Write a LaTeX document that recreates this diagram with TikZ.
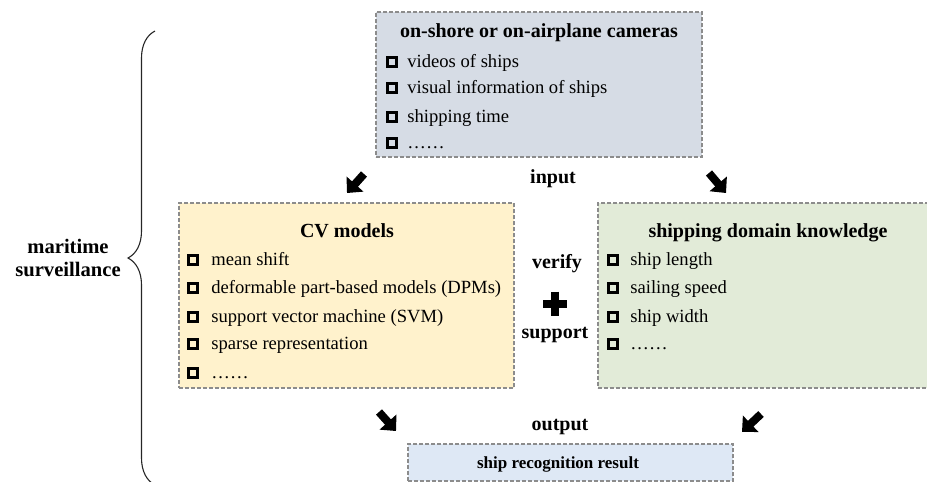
\documentclass[tikz,border=0pt]{standalone}
\usepackage{fontspec}
\setmainfont{Liberation Serif}
\usetikzlibrary{arrows.meta,decorations.pathreplacing}
\definecolor{camfill}{HTML}{D6DCE5}
\definecolor{cvfill}{HTML}{FFF2CC}
\definecolor{knowfill}{HTML}{E2EBD8}
\definecolor{resfill}{HTML}{DEE8F5}
\definecolor{dashgray}{HTML}{8C8C8C}
\tikzset{
  box/.style={draw=dashgray,line width=0.7pt,dash pattern=on 2pt off 1pt,inner sep=0pt},
  chk/.style={draw,line width=1.7pt,minimum size=4.7pt,inner sep=0pt},
  entry/.style={anchor=base west,inner sep=0pt},
  title/.style={anchor=base,inner sep=0pt,font=\bfseries},
  blk/.style={line width=4pt,-{Triangle[length=6pt,width=11pt]}}
}

\begin{document}
\begin{tikzpicture}[x=0.5pt,y=-0.5pt,font=\fontsize{9.3}{11}\selectfont]
\useasboundingbox (0,0) rectangle (927,482);
\node[box,fill=camfill,minimum width=163pt,minimum height=72.5pt] (cams) at (539,84.5) {};
\node[box,fill=cvfill,minimum width=167.5pt,minimum height=92.5pt] (cv) at (346.5,295.5) {};
\node[box,fill=knowfill,minimum width=170pt,minimum height=92.5pt] (know) at (768,295.5) {};
\node[box,fill=resfill,minimum width=162.5pt,minimum height=18.5pt] (res) at (570.5,462.5) {};

\node[title] (camstitle) at (539,37) {on-shore or on-airplane cameras};
\foreach \n/\y/\t in {cam1/62/videos of ships,cam2/88/visual information of ships,cam3/117/shipping time,cam4/143/……}{
  \node[chk] (\n-b) at (392,\y) {};
  \node[entry] (\n) at (407,\y+5) {\t};
}
\node[title] (cvtitle) at (347,237) {CV models};
\foreach \n/\y/\t in {cv1/260/mean shift,cv2/288/deformable part-based models (DPMs),cv3/317/support vector machine (SVM),cv4/344/sparse representation,cv5/373/……}{
  \node[chk] (\n-b) at (193,\y) {};
  \node[entry] (\n) at (211,\y+5) {\t};
}
\node[title] (knowtitle) at (768,237) {shipping domain knowledge};
\foreach \n/\y/\t in {kn1/260/ship length,kn2/288/sailing speed,kn3/317/ship width,kn4/344/……}{
  \node[chk] (\n-b) at (613,\y) {};
  \node[entry] (\n) at (630,\y+5) {\t};
}
\node[title,font=\fontsize{8.5}{10}\selectfont\bfseries] (restitle) at (558,468) {ship recognition result};

\node[title] (input) at (553,183) {input};
\node[title] (verify) at (557,268) {verify};
\node[title] (support) at (555,338) {support};
\node[title] (output) at (560,430) {output};
\draw[line width=4pt] (543,303.5) -- (567,303.5) (555,291.5) -- (555,315.5);

\foreach \n/\x/\y in {inl-s/364/174,inl-e/347/193,inr-s/709/173,inr-e/726/193,outl-s/379/412,outl-e/396/431,outr-s/761/414,outr-e/742/432}{\coordinate (\n) at (\x,\y);}
\draw[blk] (inl-s) -- (inl-e);
\draw[blk] (inr-s) -- (inr-e);
\draw[blk] (outl-s) -- (outl-e);
\draw[blk] (outr-s) -- (outr-e);

\coordinate (brbot) at (155,485);
\coordinate (brtop) at (155,31);
\draw[decorate,decoration={brace,amplitude=13.5pt},line width=0.55pt,black!85] (brbot) -- (brtop);
\node[align=center,font=\fontsize{10.3}{11.5}\selectfont\bfseries] (maritime) at (68,258) {maritime\\surveillance};
\end{tikzpicture}
\end{document}
